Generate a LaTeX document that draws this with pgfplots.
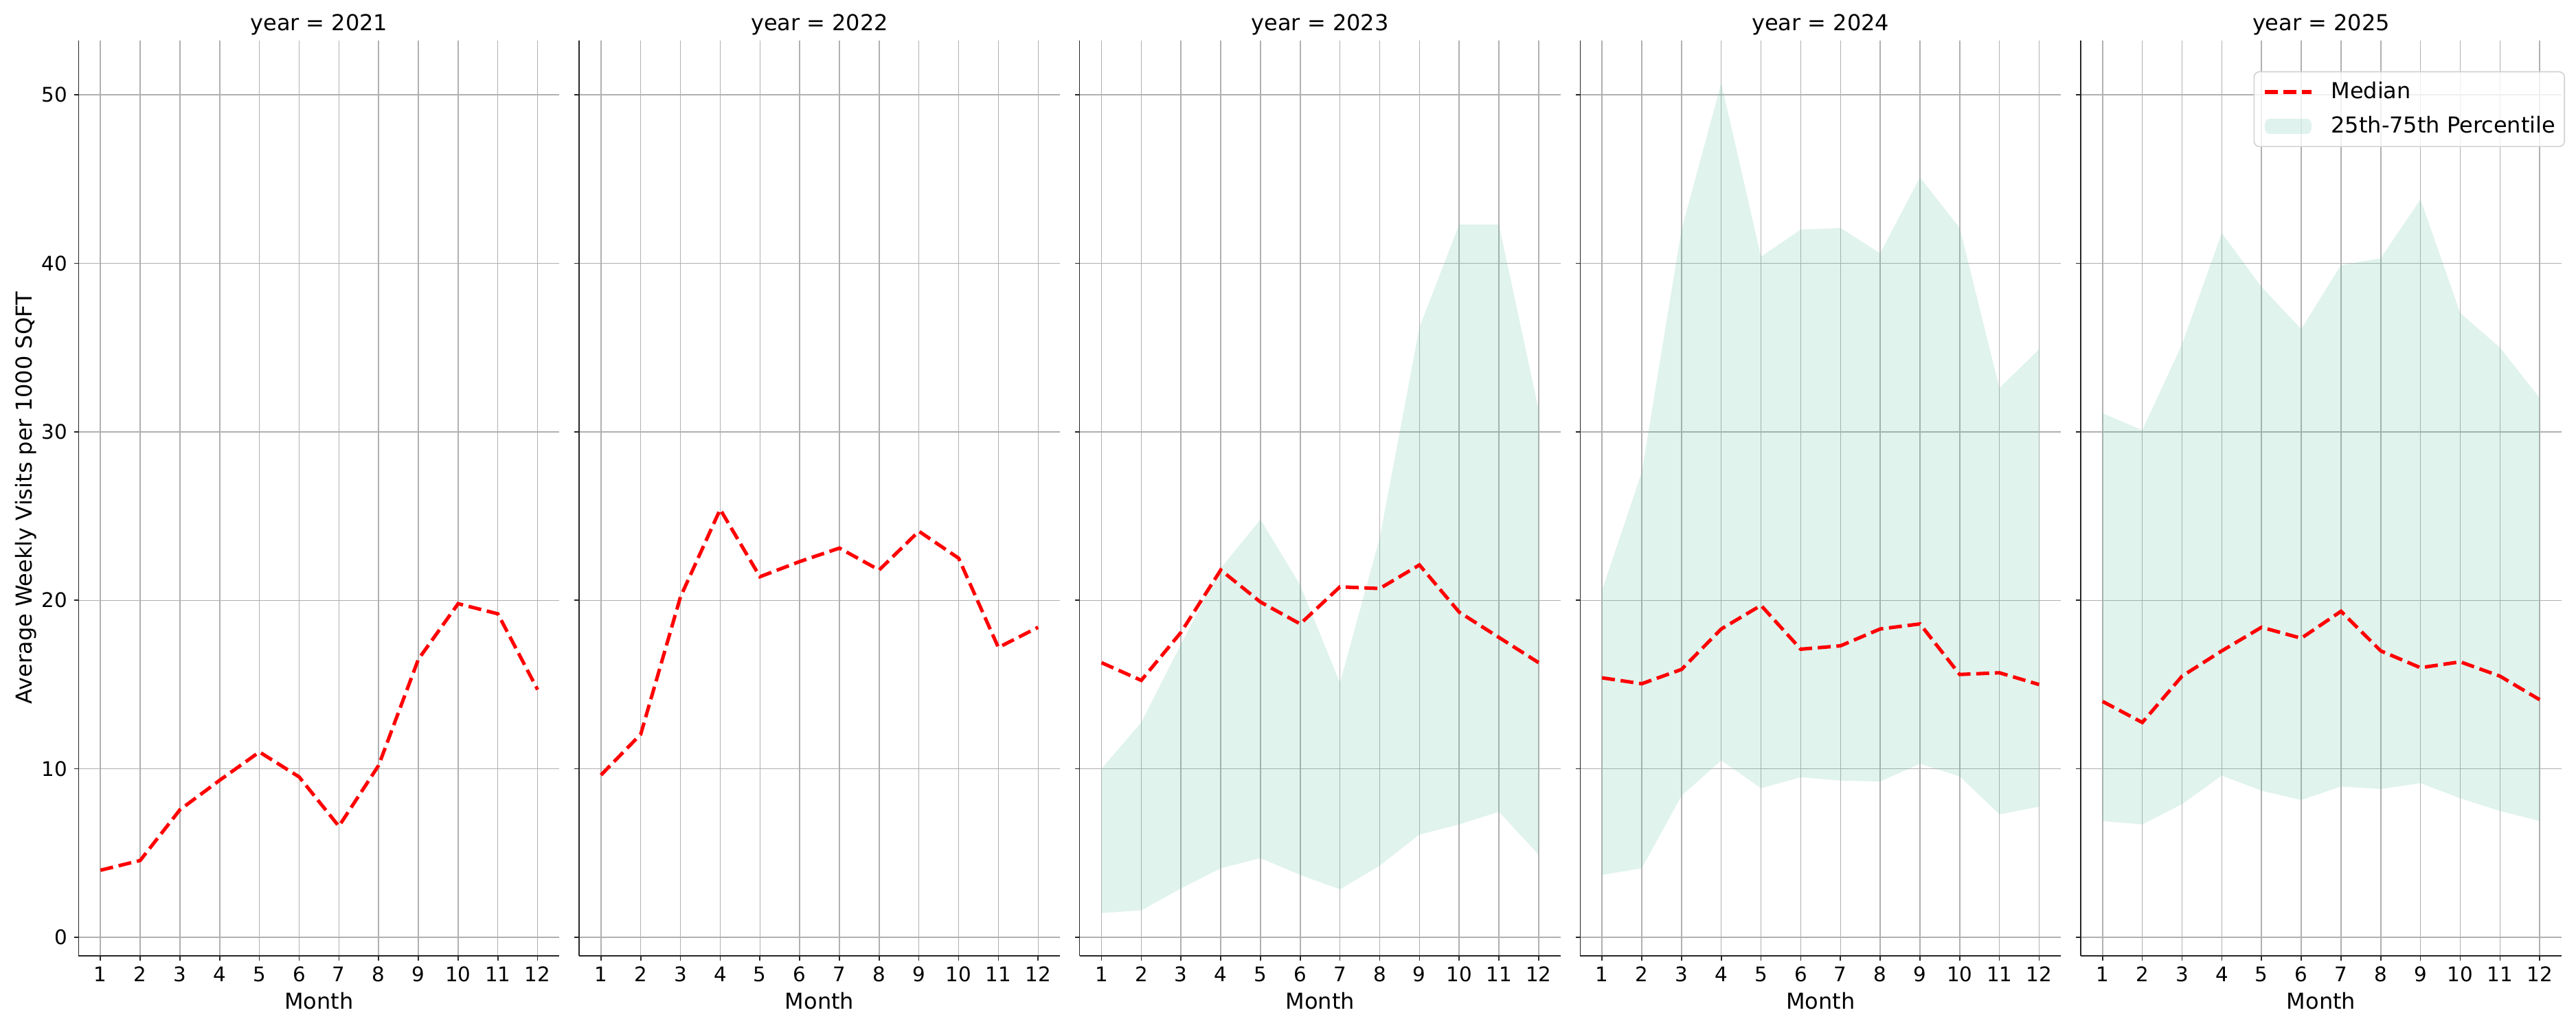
\documentclass[border=0pt]{standalone}
\usepackage{fontspec}
\setmainfont{DejaVu Sans}
\usepackage{pgfplots}
\usepackage{pgfplotstable}
\pgfplotsset{compat=1.18}
\usepgfplotslibrary{fillbetween}

\definecolor{band}{HTML}{66C2A5}
\definecolor{spine}{HTML}{262626}
\definecolor{gridc}{HTML}{B0B0B0}

% median and 25th/75th percentile per month
\pgfplotstableread{
month m21   m22   m23   lo23 hi23 m24   lo24  hi24 m25   lo25  hi25
1     3.98  9.63  16.3  1.44 10.0 15.4  3.7   20.6 14.0  6.9   31.1
2     4.56  12.05 15.25 1.6  12.75 15.05 4.1  27.6 12.75 6.7   30.1
3     7.57  20.2  18.1  2.9  17.4 15.9  8.4   42.0 15.5  7.9   35.2
4     9.32  25.4  21.8  4.1  21.9 18.3  10.5  50.7 17.0  9.6   41.8
5     11.0  21.4  19.9  4.7  24.8 19.7  8.85  40.4 18.4  8.7   38.6
6     9.52  22.3  18.6  3.7  20.9 17.1  9.5   42.0 17.75 8.15  36.1
7     6.59  23.1  20.8  2.85 15.1 17.3  9.3   42.1 19.35 8.95  39.9
8     10.2  21.8  20.7  4.25 23.7 18.3  9.25  40.6 17.0  8.8   40.3
9     16.5  24.1  22.1  6.1  36.2 18.6  10.3  45.1 16.0  9.15  43.8
10    19.8  22.5  19.3  6.7  42.3 15.6  9.55  42.1 16.35 8.25  37.05
11    19.2  17.2  17.8  7.45 42.3 15.7  7.3   32.6 15.5  7.5   35.0
12    14.7  18.4  16.3  4.9  31.3 15.0  7.75  34.9 14.1  6.9   32.0
}\visits

\pgfplotsset{
  facet/.style={
    scale only axis, width=262.5pt, height=500pt,
    anchor=south west,
    xmin=0.45, xmax=12.55, ymin=-1.1, ymax=53.24,
    xtick={1,...,12}, ytick={0,10,...,50},
    axis lines*=left,
    axis line style={spine, line width=0.6pt},
    tick align=outside, major tick length=2.5pt,
    tick style={spine, line width=0.6pt},
    grid=major, major grid style={gridc, line width=0.55pt},
    tick label style={font=\fontsize{11}{13}\selectfont},
    /pgf/number format/assume math mode=true,
    xticklabel style={inner sep=0pt, anchor=north, yshift=-3.2pt},
    yticklabel style={inner sep=0pt, anchor=east, xshift=-3.4pt},
    every axis title/.style={at={(0.5,1)}, anchor=base, yshift=5.25pt,
      font=\fontsize{12}{14}\selectfont},
    every axis x label/.style={at={(0.5,0)}, anchor=base, yshift=-28.9pt,
      font=\fontsize{12}{14}\selectfont},
    every axis y label/.style={at={(-0.097,0.5)}, rotate=90, anchor=base,
      font=\fontsize{12}{14}\selectfont},
    xlabel={Month},
  },
  median/.style={red, line width=1.9pt, dash pattern=on 7.1pt off 3.1pt},
  band/.style={fill=band, fill opacity=0.2, draw=none},
  medianleg/.style={median,
    legend image code/.code={\draw[##1] (0pt,0pt) -- (25.5pt,0pt);}},
  bandleg/.style={band,
    legend image code/.code={\fill[##1] (0pt,-4.2pt) rectangle (25.5pt,4.2pt);}},
}

\begin{document}
\begin{tikzpicture}

\begin{axis}[facet, at={(42.9pt,40.5pt)}, title={year = 2021},
  ylabel={Average Weekly Visits per 1000 SQFT}]
  \addplot[median] table[x=month, y=m21] {\visits};
\end{axis}

\begin{axis}[facet, at={(316.14pt,40.5pt)}, title={year = 2022}, yticklabels={}]
  \addplot[median] table[x=month, y=m22] {\visits};
\end{axis}

\begin{axis}[facet, at={(589.38pt,40.5pt)}, title={year = 2023}, yticklabels={}]
  \addplot[draw=none, name path=hi, forget plot] table[x=month, y=hi23] {\visits};
  \addplot[draw=none, name path=lo, forget plot] table[x=month, y=lo23] {\visits};
  \addplot[band, forget plot] fill between[of=hi and lo];
  \addplot[median] table[x=month, y=m23] {\visits};
\end{axis}

\begin{axis}[facet, at={(862.62pt,40.5pt)}, title={year = 2024}, yticklabels={}]
  \addplot[draw=none, name path=hi, forget plot] table[x=month, y=hi24] {\visits};
  \addplot[draw=none, name path=lo, forget plot] table[x=month, y=lo24] {\visits};
  \addplot[band, forget plot] fill between[of=hi and lo];
  \addplot[median] table[x=month, y=m24] {\visits};
\end{axis}

\begin{axis}[facet, at={(1135.86pt,40.5pt)}, title={year = 2025}, yticklabels={},
  legend cell align=left,
  legend style={at={(1.0072,0.9662)}, anchor=north east,
    draw=black!18, line width=0.6pt, rounded corners=3pt,
    fill=white, fill opacity=0.8, draw opacity=1, text opacity=1,
    inner xsep=4.9pt, inner ysep=5.5pt, row sep=7.65pt, column sep=9.75pt,
    font=\fontsize{12}{14}\selectfont,
    nodes={inner sep=0pt, text height=9pt, text depth=2.1pt}}]
  \addplot[draw=none, name path=hi, forget plot] table[x=month, y=hi25] {\visits};
  \addplot[draw=none, name path=lo, forget plot] table[x=month, y=lo25] {\visits};
  \addplot[band, forget plot] fill between[of=hi and lo];
  \addplot[median, forget plot] table[x=month, y=m25] {\visits};
  \addlegendimage{medianleg}
  \addlegendentry{Median}
  \addlegendimage{bandleg}
  \addlegendentry{25th-75th Percentile}
\end{axis}

\pgfresetboundingbox
\useasboundingbox (0,0) rectangle (1406.25pt,562.5pt);
\end{tikzpicture}
\end{document}
